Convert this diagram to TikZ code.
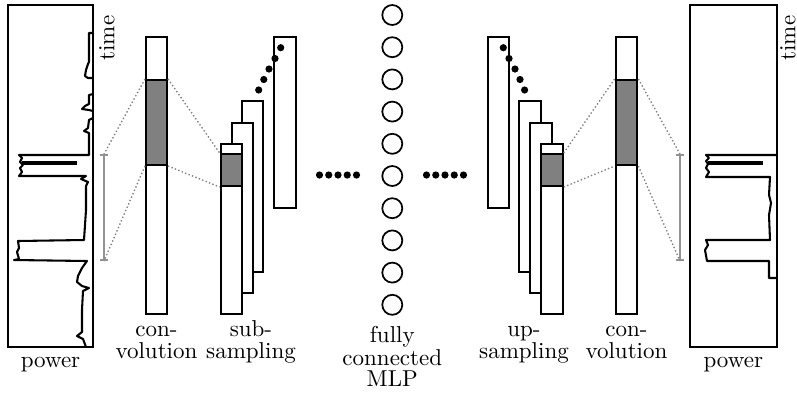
\documentclass[tikz,border=0pt]{standalone}
\usetikzlibrary{fit,arrows.meta}
\begin{document}
\begin{tikzpicture}[x=0.4348pt,y=-0.4348pt,
  layerbox/.style={draw,line width=0.9pt,fill=white,inner sep=0pt},
  grayblock/.style={draw,line width=0.9pt,fill=gray,inner sep=0pt},
  sigtrace/.style={line width=0.9pt,line join=round},
  sigspike/.style={line width=1.5pt},
  dotlink/.style={gray,line width=0.6pt,dash pattern=on 0.6pt off 1pt},
  spanbar/.style={gray!85,line width=0.7pt,{Bar[width=3.6pt]}-{Bar[width=3.6pt]}},
  neuron/.style={draw,circle,line width=0.75pt,minimum size=8.7pt,inner sep=0pt},
  blob/.style={fill=black},
  caption/.style={font=\fontsize{10}{9.5}\selectfont,align=center,inner sep=0pt,anchor=base},
]
\useasboundingbox (0,0) rectangle (797,399);

% ---------- input signal ----------
\node[layerbox,fit={(8,5) (93,347)}] (powL) {};
\draw[sigtrace] (93,33) -- (89,33) -- (89,62) -- (88,64) -- (86,70) -- (85,76) -- (88,78) -- (93,78)
  (93,94) -- (89,95) -- (89,104) -- (85,106) -- (82,109) -- (89,110) -- (93,111)
  (93,118) -- (89,120) -- (88,128) -- (84,131) -- (89,133) -- (89,155) -- (19,155)
  -- (22,158) -- (20,162) -- (23,165) -- (20,168) -- (22,172) -- (19,176) -- (86,176)
  -- (81,179) -- (88,182) -- (86,186) -- (86,210) -- (84,240) -- (18,241) -- (19,248)
  -- (17,252) -- (19,259) -- (14,260) -- (87,261) -- (82,268) -- (78,276) -- (77,282)
  -- (82,286) -- (89,288) -- (83,291) -- (82,310) -- (82,332) -- (77,336) -- (83,339) -- (86,347);
\draw[sigspike] (22,163) -- (77,163);
\node[caption] (powLlab) at (50.5,367) {power};
\node[caption,rotate=90,anchor=center] (timeL) at (107,38) {time};

% ---------- first convolution ----------
\node[layerbox,fit={(146,37) (167,314)}] (convL) {};
\node[grayblock,fit={(146,80) (167,165)}] (convLg) {};
\coordinate (barLt) at (104,154);
\coordinate (barLb) at (104,261);
\draw[spanbar] (barLt) -- (barLb);
\draw[dotlink] (convLg.north west) -- (barLt);
\draw[dotlink] (convLg.south west) -- (barLb);
\node[caption] (convLlab) at (156.5,358) {con-\\volution};

% ---------- sub-sampling stack ----------
\node[layerbox,fit={(274.3,37) (296,208)}] (subD) {};
\node[layerbox,fit={(242.3,101) (263.3,272)}] (subC) {};
\node[layerbox,fit={(231.7,123) (252.7,293)}] (subB) {};
\node[layerbox,fit={(220.7,144) (242.3,314)}] (subA) {};
\node[grayblock,fit={(220.7,154) (242.3,186)}] (subAg) {};
\draw[dotlink] (convLg.north east) -- (subAg.north west);
\draw[dotlink] (convLg.south east) -- (subAg.south west);
\foreach \x/\y in {258.7/90,263.8/79.5,269/69,275/58.5,280.7/47.7}
  \fill[blob] (\x,\y) circle[radius=3.6];
\node[caption] (subLab) at (251,358) {sub-\\sampling};

% ---------- fully connected layer ----------
\foreach \x in {319.5,328.75,338,347.25,356.5}
  \fill[blob] (\x,175) circle[radius=3.6];
\foreach \i in {0,...,9}
  \node[neuron] (mlp\i) at (392.3,{15+32.2*\i}) {};
\foreach \x in {426.5,435.75,445,454.25,463.5}
  \fill[blob] (\x,175) circle[radius=3.6];
\node[caption,font=\fontsize{10}{8.8}\selectfont] (mlpLab) at (392.3,386) {fully\\connected\\MLP};

% ---------- up-sampling stack ----------
\node[layerbox,fit={(487.7,37) (509.3,208)}] (upD) {};
\node[layerbox,fit={(519.3,101) (541,272)}] (upC) {};
\node[layerbox,fit={(530.3,123) (552,293)}] (upB) {};
\node[layerbox,fit={(541,144) (562.7,314)}] (upA) {};
\node[grayblock,fit={(541,154) (562.7,186)}] (upAg) {};
\foreach \x/\y in {503.3/47.7,509/58.5,515/69,520/79.5,524.6/90}
  \fill[blob] (\x,\y) circle[radius=3.6];
\node[caption] (upLab) at (524,358) {up-\\sampling};

% ---------- second convolution ----------
\node[layerbox,fit={(615.7,37) (637.3,314)}] (convR) {};
\node[grayblock,fit={(615.7,80) (637.3,165)}] (convRg) {};
\draw[dotlink] (upAg.north east) -- (convRg.north west);
\draw[dotlink] (upAg.south east) -- (convRg.south west);
\coordinate (barRt) at (680,154);
\coordinate (barRb) at (680,261);
\draw[spanbar] (barRt) -- (barRb);
\draw[dotlink] (convRg.north east) -- (barRt);
\draw[dotlink] (convRg.south east) -- (barRb);
\node[caption] (convRlab) at (626.5,358) {con-\\volution};

% ---------- output signal ----------
\node[layerbox,fit={(690,5) (776.7,347)}] (powR) {};
\draw[sigtrace] (776.7,155) -- (706,155) -- (709,158) -- (706,161) -- (708,164) -- (706,168)
  -- (709,172) -- (706,177) -- (770,177) -- (769,195) -- (771,203) -- (769,215) -- (770,240)
  -- (706,240) -- (708,245) -- (705,250) -- (707,261) -- (769,261) -- (769,278) -- (776.7,278);
\draw[sigspike] (708,163) -- (763,163);
\node[caption] (powRlab) at (733.3,367) {power};
\node[caption,rotate=90,anchor=center] (timeR) at (788,38) {time};
\end{tikzpicture}
\end{document}
